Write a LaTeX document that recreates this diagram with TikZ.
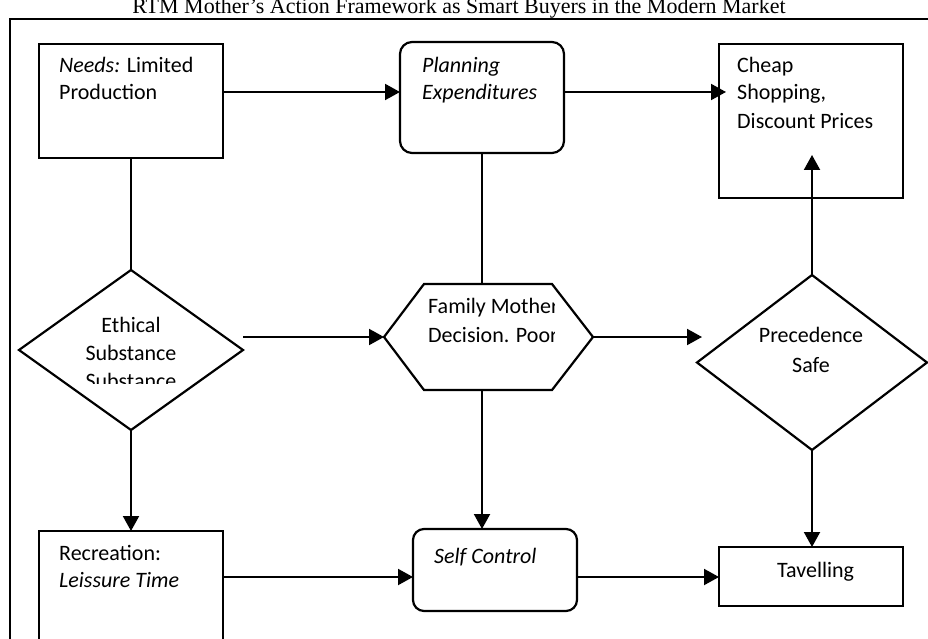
\documentclass[tikz,border=0pt]{standalone}
\usepackage{fontspec}
\setmainfont{Carlito}
\newfontfamily\titlefont{Liberation Serif}
\usetikzlibrary{arrows.meta,calc,shapes.geometric}
\begin{document}
\begin{tikzpicture}[x=1pt,y=-1pt,
  bx/.style={draw, line width=2.2pt, inner sep=0pt, outer sep=0pt},
  sq/.style={bx, rectangle},
  rnd/.style={bx, rectangle, rounded corners=12pt},
  dia/.style={bx, diamond},
  conn/.style={line width=2pt},
  arr/.style={conn, -{Triangle[length=15pt,width=16pt]}},
  lbl/.style={anchor=base west, inner sep=0pt, font=\fontsize{22}{27}\selectfont},
  clbl/.style={anchor=base, inner sep=0pt, font=\fontsize{22}{27}\selectfont},
]
\useasboundingbox (0,0) rectangle (928,639);
\clip (0,0) rectangle (928,639);
\fill[white] (0,0) rectangle (928,639);

% title and frame
\node[anchor=base, inner sep=0pt, font=\titlefont\fontsize{22}{26}\selectfont] (title) at (459,14) {RTM Mother’s Action Framework as Smart Buyers in the Modern Market};
\draw[line width=2pt] (9.5,700) -- (9.5,19) -- (940,19);

% shapes
\node[sq, minimum width=184pt, minimum height=114pt] (needs) at (131,101) {};
\node[rnd, minimum width=164pt, minimum height=111pt] (planning) at (482,97.5) {};
\node[sq, minimum width=184pt, minimum height=154pt] (cheap) at (811,121) {};
\node[dia, minimum width=224pt, minimum height=160pt] (eth) at (131,350) {};
\node[minimum width=209pt, minimum height=106pt, inner sep=0pt, outer sep=0pt] (hex) at (488.5,337) {};
\draw[line width=2.2pt, line join=miter] (hex.west) -- ([xshift=40pt]hex.north west) -- ([xshift=-41pt]hex.north east) -- (hex.east) -- ([xshift=-41pt]hex.south east) -- ([xshift=40pt]hex.south west) -- cycle;
\node[dia, minimum width=230pt, minimum height=175pt] (prec) at (812,362.5) {};
\node[sq, minimum width=184pt, minimum height=169pt] (rec) at (131,615.5) {};
\node[rnd, minimum width=164pt, minimum height=82pt, rounded corners=11pt] (selfc) at (495,570) {};
\node[sq, minimum width=184pt, minimum height=59pt] (tav) at (811,576.5) {};

% connectors
\draw[arr] (needs.east |- 0,92) -- (planning.west |- 0,92);
\draw[arr, shorten >=-7pt] (planning.east |- 0,92) -- (cheap.west |- 0,92);
\draw[conn] (needs.south) -- (eth.north);
\draw[conn] (planning.south) -- (planning.south |- hex.north);
\draw[arr] (eth.east |- hex.west) -- (hex.west);
\draw[arr, shorten >=-5pt] (hex.east) -- (prec.west |- hex.east);
\draw[arr, shorten >=-43pt] (prec.north) -- (prec.north |- cheap.south);
\draw[arr] (eth.south) -- (eth.south |- rec.north);
\draw[arr] (planning.south |- hex.south) -- (planning.south |- selfc.north);
\draw[arr] (prec.south) -- (prec.south |- tav.north);
\draw[arr] (rec.east |- 0,577) -- (selfc.west |- 0,577);
\draw[arr] (selfc.east |- 0,577) -- (tav.west |- 0,577);

% texts
\node[lbl] (needsA) at (59,73) {\textit{Needs:} Limited};
\node[lbl] (needsB) at (59,100) {Production};
\node[lbl] (planA) at (422,73) {\textit{Planning}};
\node[lbl] (planB) at (422,100) {\textit{Expenditures}};
\node[lbl] (cheapA) at (737,73) {Cheap};
\node[lbl] (cheapB) at (737,100) {Shopping,};
\node[lbl] (cheapC) at (737,129) {Discount Prices};
\begin{scope}
\clip (0,0) rectangle (928,383);
\node[clbl] (ethA) at (131,332) {Ethical};
\node[clbl] (ethB) at (131,360) {Substance};
\node[clbl] (ethC) at (131,388) {Substance};
\end{scope}
\begin{scope}
\clip (0,0) rectangle (554,639);
\node[lbl] (hexA) at (428,313) {Family Mother};
\node[lbl] (hexB) at (428,342) {Decision. Poor};
\end{scope}
\node[clbl] (precA) at (811,342) {Precedence};
\node[clbl] (precB) at (811,372) {Safe};
\node[lbl] (recA) at (59,560) {Recreation:};
\node[lbl] (recB) at (59,587) {\textit{Leissure Time}};
\node[lbl] (selfA) at (434,563) {\textit{Self Control}};
\node[lbl] (tavA) at (777,577) {Tavelling};
\end{tikzpicture}
\end{document}
